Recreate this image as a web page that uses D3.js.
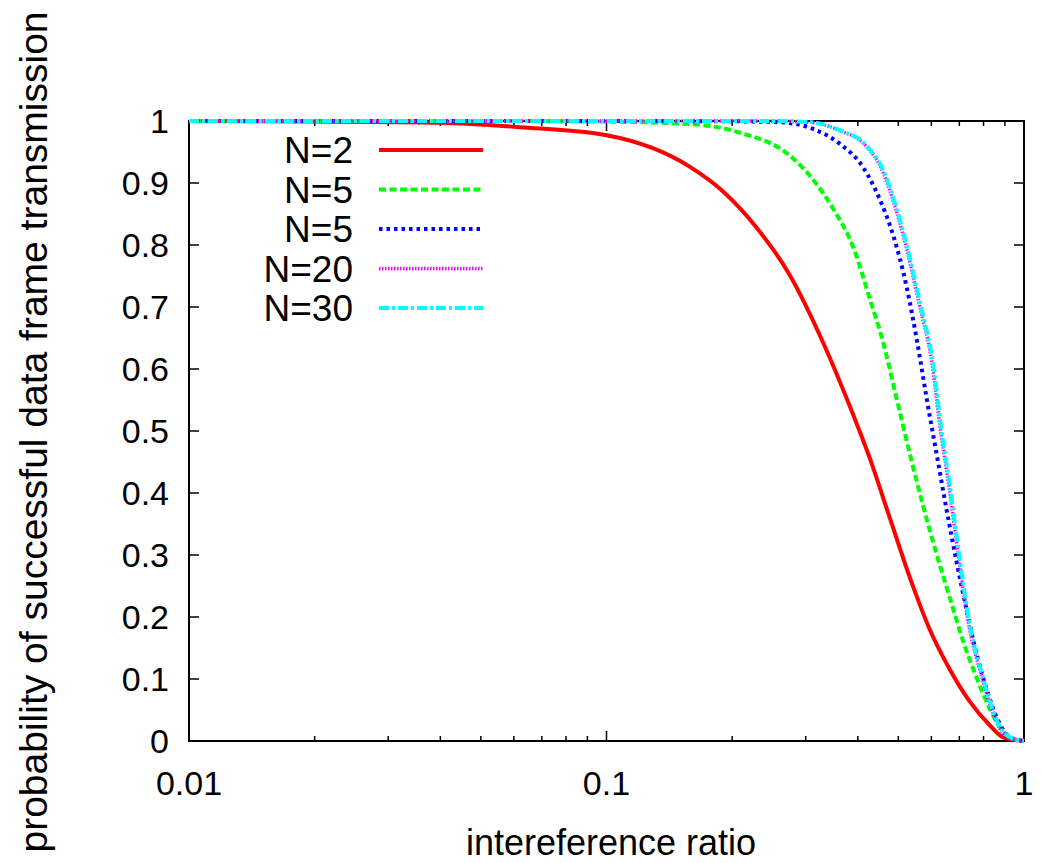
<!DOCTYPE html>
<html>
<head>
<meta charset="utf-8">
<script src="https://cdn.jsdelivr.net/npm/d3@7"></script>
<style>
  body { margin: 0; background: #fff; }
  text { font-family: "Liberation Sans", Arial, sans-serif; fill: #000; }
</style>
</head>
<body>
<div id="chart"></div>
<script>
// values (interference ratio, probability)
const seriesNames = ["N=2", "N=5", "N=5", "N=20", "N=30"];
const seriesColors = ["#ff0000", "#00ff00", "#0000ff", "#ff00ff", "#00ffff"];
const seriesDash = [null, "7,3.5", "3.5,4", "1.5,1.5", "10,3,3,3"];

const n2X = [0.01, 0.02, 0.04, 0.062, 0.1, 0.1585, 0.1905, 0.2289, 0.2751, 0.3306, 0.3831, 0.4278, 0.4775, 0.5332, 0.5954, 0.6648, 0.7425, 0.829, 0.892, 1.0];
const n2P = [1.0, 0.999, 0.997, 0.990, 0.977, 0.926, 0.886, 0.828, 0.751, 0.642, 0.539, 0.455, 0.359, 0.263, 0.179, 0.115, 0.063, 0.025, 0.006, 0.0];

const n5X = [0.01, 0.05, 0.1, 0.1585, 0.2088, 0.2751, 0.3187, 0.3494, 0.3902, 0.4278, 0.4603, 0.4955, 0.5332, 0.5739, 0.6179, 0.6648, 0.7155, 0.7704, 0.829, 0.892, 0.96, 1.0];
const n5P = [1.0, 1.0, 0.999, 0.995, 0.981, 0.944, 0.898, 0.858, 0.796, 0.712, 0.642, 0.552, 0.462, 0.378, 0.301, 0.230, 0.160, 0.102, 0.051, 0.015, 0.002, 0.0];

const n10X = [0.01, 0.1, 0.2, 0.26, 0.3072, 0.3624, 0.4122, 0.4518, 0.4864, 0.5236, 0.5534, 0.5848, 0.6179, 0.6529, 0.6899, 0.729, 0.7704, 0.814, 0.8601, 0.926, 1.0];
const n10P = [1.0, 1.0, 0.9995, 0.998, 0.989, 0.963, 0.925, 0.873, 0.815, 0.732, 0.648, 0.552, 0.462, 0.372, 0.288, 0.211, 0.140, 0.083, 0.038, 0.006, 0.0];

const n20X = [0.01, 0.1, 0.25, 0.308, 0.3605, 0.4177, 0.4578, 0.4928, 0.5207, 0.5605, 0.6033, 0.6282, 0.6612, 0.696, 0.7315, 0.795, 0.8355, 0.8755, 0.935, 1.0];
const n20P = [1.0, 1.0, 1.0, 0.998, 0.985, 0.96, 0.92, 0.858, 0.80, 0.706, 0.605, 0.51, 0.41, 0.30, 0.20, 0.10, 0.052, 0.02, 0.004, 0.0];

const n30X = [0.01, 0.1, 0.25, 0.31, 0.3624, 0.42, 0.4603, 0.4955, 0.5236, 0.5636, 0.6066, 0.6317, 0.6648, 0.6998, 0.7356, 0.7993, 0.84, 0.88, 0.94, 1.0];
const n30P = [1.0, 1.0, 1.0, 0.998, 0.985, 0.96, 0.92, 0.858, 0.80, 0.706, 0.605, 0.51, 0.41, 0.30, 0.20, 0.10, 0.052, 0.02, 0.004, 0.0];

const seriesX = [n2X, n5X, n10X, n20X, n30X];
const seriesP = [n2P, n5P, n10P, n20P, n30P];

const xTickValues = [0.01, 0.1, 1];
const xTickLabels = ["0.01", "0.1", "1"];
const yTickValues = [0, 0.1, 0.2, 0.3, 0.4, 0.5, 0.6, 0.7, 0.8, 0.9, 1];

const width = 1043, height = 863;
const plotLeft = 189, plotRight = 1024, plotTop = 121, plotBottom = 741;

const svg = d3.select("#chart").append("svg")
    .attr("width", width)
    .attr("height", height);

const x = d3.scaleLog().domain([0.01, 1]).range([plotLeft, plotRight]);
const y = d3.scaleLinear().domain([0, 1]).range([plotBottom, plotTop]);

// minor ticks for the log axis
const minorX = [];
[0.01, 0.1].forEach(d => {
    for (let k = 2; k <= 9; k++) minorX.push(d * k);
});

const ticks = svg.append("g").attr("stroke", "#000").attr("stroke-width", 1.5);

xTickValues.forEach(v => {
    ticks.append("line").attr("x1", x(v)).attr("x2", x(v)).attr("y1", plotBottom).attr("y2", plotBottom - 10);
    ticks.append("line").attr("x1", x(v)).attr("x2", x(v)).attr("y1", plotTop).attr("y2", plotTop + 10);
});
minorX.forEach(v => {
    ticks.append("line").attr("x1", x(v)).attr("x2", x(v)).attr("y1", plotBottom).attr("y2", plotBottom - 5);
    ticks.append("line").attr("x1", x(v)).attr("x2", x(v)).attr("y1", plotTop).attr("y2", plotTop + 5);
});
yTickValues.forEach(v => {
    ticks.append("line").attr("x1", plotLeft).attr("x2", plotLeft + 10).attr("y1", y(v)).attr("y2", y(v));
    ticks.append("line").attr("x1", plotRight).attr("x2", plotRight - 10).attr("y1", y(v)).attr("y2", y(v));
});

// border
svg.append("rect")
    .attr("x", plotLeft).attr("y", plotTop)
    .attr("width", plotRight - plotLeft).attr("height", plotBottom - plotTop)
    .attr("fill", "none")
    .attr("stroke", "#000")
    .attr("stroke-width", 2);

// tick labels
svg.append("g").selectAll("text")
    .data(yTickValues)
    .join("text")
    .attr("x", 169)
    .attr("y", d => y(d))
    .attr("dy", "0.35em")
    .attr("text-anchor", "end")
    .style("font-size", "34px")
    .text(d => String(+d.toFixed(1)));

svg.append("g").selectAll("text")
    .data(xTickValues)
    .join("text")
    .attr("x", d => x(d))
    .attr("y", 795)
    .attr("text-anchor", "middle")
    .style("font-size", "34px")
    .text((d, i) => xTickLabels[i]);

// axis titles
svg.append("text")
    .attr("x", 611)
    .attr("y", 855)
    .attr("text-anchor", "middle")
    .style("font-size", "36px")
    .text("intereference ratio");

svg.append("text")
    .attr("transform", "translate(47,432) rotate(-90)")
    .attr("text-anchor", "middle")
    .style("font-size", "39px")
    .text("probability of successful data frame transmission");

// curves
const line = d3.line()
    .x(d => x(d[0]))
    .y(d => y(d[1]))
    .curve(d3.curveMonotoneX);

seriesX.forEach((xs, i) => {
    const pts = xs.map((v, j) => [v, seriesP[i][j]]);
    svg.append("path")
        .datum(pts)
        .attr("d", line)
        .attr("fill", "none")
        .attr("stroke", seriesColors[i])
        .attr("stroke-width", i === 3 ? 3.5 : 4)
        .attr("stroke-dasharray", seriesDash[i]);
});

// legend
const legend = svg.append("g");
seriesNames.forEach((name, i) => {
    const by = 163 + i * 39.5;
    legend.append("text")
        .attr("x", 353)
        .attr("y", by)
        .attr("text-anchor", "end")
        .style("font-size", "37px")
        .text(name);
    legend.append("line")
        .attr("x1", 379).attr("x2", 483)
        .attr("y1", by - 13).attr("y2", by - 13)
        .attr("stroke", seriesColors[i])
        .attr("stroke-width", i === 3 ? 3.5 : 4)
        .attr("stroke-dasharray", seriesDash[i]);
});
</script>
</body>
</html>
